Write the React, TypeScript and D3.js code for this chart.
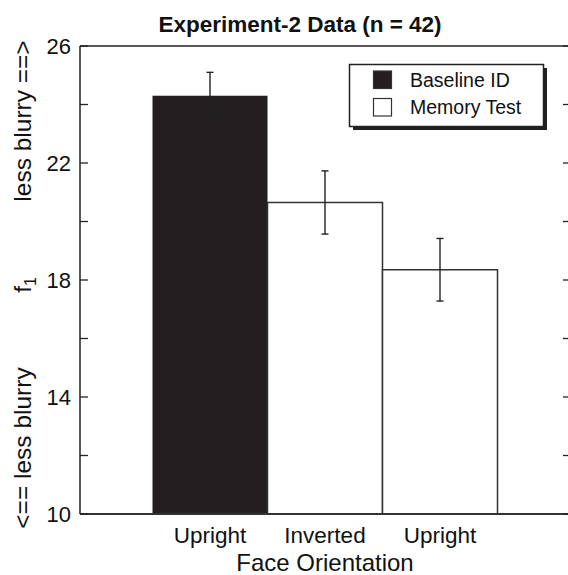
import React from "react";
import * as d3 from "d3";

const categories = ["Upright", "Inverted", "Upright"];
const series = ["Baseline ID", "Memory Test", "Memory Test"];
const means = [24.3, 20.65, 18.35];
const errors = [0.8, 1.08, 1.07];
const yTicks = [10, 12, 14, 16, 18, 20, 22, 24, 26];
const yTickLabels = [10, 14, 18, 22, 26];
const legendItems = ["Baseline ID", "Memory Test"];

const W = 568;
const H = 575;
const plot = { left: 80, right: 568, top: 46, bottom: 514 };
const FONT = "'Liberation Sans', Arial, Helvetica, sans-serif";
const DARK = "#231f20";

export default function App() {
  const y = d3.scaleLinear().domain([10, 26]).range([plot.bottom, plot.top]);
  const x = d3
    .scaleBand<number>()
    .domain(d3.range(categories.length))
    .range([152.5, 497.5])
    .padding(0);
  const bw = x.bandwidth();
  const fillFor = (s: string) => (s === "Baseline ID" ? DARK : "#fff");

  return (
    <svg
      width={W}
      height={H}
      style={{ position: "absolute", left: 0, top: 0, background: "#fff" }}
      fontFamily={FONT}
    >
      {/* title */}
      <text x={300} y={32} textAnchor="middle" fontSize={22.5} fontWeight="bold" fill="#111">
        Experiment-2 Data (n = 42)
      </text>

      {/* bars */}
      {means.map((m, i) => (
        <rect
          key={"b" + i}
          x={x(i)!}
          y={y(m)}
          width={bw}
          height={y(10) - y(m)}
          fill={fillFor(series[i])}
          stroke={series[i] === "Baseline ID" ? "none" : "#333"}
          strokeWidth={1.5}
        />
      ))}

      {/* error bars */}
      {means.map((m, i) => {
        const cx = x(i)! + bw / 2;
        return (
          <g key={"e" + i} stroke="#222" strokeWidth={1.4}>
            <line x1={cx} x2={cx} y1={y(m + errors[i])} y2={y(m - errors[i])} />
            <line x1={cx - 3.5} x2={cx + 3.5} y1={y(m + errors[i])} y2={y(m + errors[i])} />
            <line x1={cx - 3.5} x2={cx + 3.5} y1={y(m - errors[i])} y2={y(m - errors[i])} />
          </g>
        );
      })}

      {/* frame */}
      <line x1={plot.left} x2={plot.right} y1={plot.top} y2={plot.top} stroke="#222" strokeWidth={1.5} />
      <line x1={plot.left} x2={plot.left} y1={plot.top} y2={plot.bottom} stroke="#222" strokeWidth={1.5} />
      <line x1={plot.left} x2={plot.right} y1={plot.bottom} y2={plot.bottom} stroke="#333" strokeWidth={2} />

      {/* ticks */}
      {yTicks.map((t) => (
        <g key={"t" + t} stroke="#222" strokeWidth={1.3}>
          <line x1={plot.left} x2={plot.left + 8} y1={y(t)} y2={y(t)} />
          <line x1={plot.right - 5} x2={plot.right} y1={y(t)} y2={y(t)} />
        </g>
      ))}
      {yTickLabels.map((t) => (
        <text key={"l" + t} x={71} y={y(t)} dy="0.36em" textAnchor="end" fontSize={22} fill="#111">
          {t}
        </text>
      ))}

      {/* x labels */}
      {categories.map((c, i) => (
        <text key={"c" + i} x={x(i)! + bw / 2} y={543} textAnchor="middle" fontSize={22.5} fill="#111">
          {c}
        </text>
      ))}
      <text x={325} y={571} textAnchor="middle" fontSize={24} fill="#111">
        Face Orientation
      </text>

      {/* y label */}
      <g fontSize={24.5} fill="#111">
        <text transform="translate(31,121) rotate(-90)" textAnchor="middle">
          less blurry ==&gt;
        </text>
        <text transform="translate(31,285) rotate(-90)" textAnchor="middle">
          f<tspan fontSize={16} dy="5">1</tspan>
        </text>
        <text transform="translate(31,448) rotate(-90)" textAnchor="middle">
          &lt;== less blurry
        </text>
      </g>

      {/* legend */}
      <g>
        <rect x={353} y={68} width={194} height={62} fill={DARK} />
        <rect x={349.5} y={64.5} width={194} height={62} fill="#fff" stroke="#222" strokeWidth={1.5} />
        {legendItems.map((s, i) => (
          <g key={"lg" + i}>
            <rect
              x={373.5}
              y={71 + i * 27.5}
              width={18}
              height={17.5}
              fill={fillFor(s)}
              stroke="#333"
              strokeWidth={1.2}
            />
            <text x={410} y={87 + i * 26.5} fontSize={19.5} fill="#111">
              {s}
            </text>
          </g>
        ))}
      </g>
    </svg>
  );
}
